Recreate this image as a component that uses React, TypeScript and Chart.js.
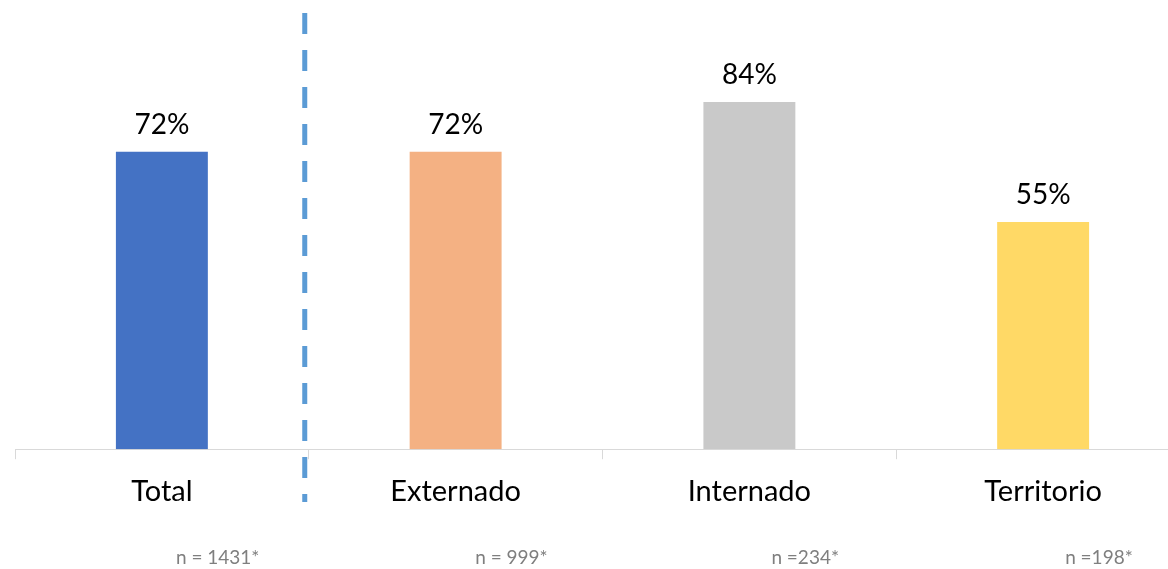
import React, { useEffect, useRef } from "react";
import { Chart, registerables } from "chart.js";

Chart.register(...registerables);

const categories = ["Total", "Externado", "Internado", "Territorio"];
const values = [72, 72, 84, 55];
const barColors = ["#4472C4", "#F4B183", "#C9C9C9", "#FFD966"];
const sampleLabels = ["n = 1431*", "n = 999*", "n =234*", "n =198*"];

const FONT = "Lato, 'Liberation Sans', sans-serif";

export default function App() {
  const ref = useRef<HTMLCanvasElement | null>(null);

  useEffect(() => {
    if (!ref.current) return;

    const valueLabels = {
      id: "valueLabels",
      afterDatasetsDraw(chart: any) {
        const ctx = chart.ctx;
        const meta = chart.getDatasetMeta(0);
        ctx.save();
        ctx.font = `28px ${FONT}`;
        ctx.fillStyle = "#000000";
        ctx.textAlign = "center";
        ctx.textBaseline = "alphabetic";
        meta.data.forEach((bar: any, i: number) => {
          ctx.fillText(`${values[i]}%`, bar.x, bar.y - 18);
        });
        // sample size labels
        ctx.font = `19px ${FONT}`;
        ctx.fillStyle = "#7F7F7F";
        ctx.textBaseline = "middle";
        const xs = chart.scales.x;
        const step = xs.getPixelForValue(1) - xs.getPixelForValue(0);
        meta.data.forEach((bar: any, i: number) => {
          ctx.fillText(sampleLabels[i], bar.x + step * 0.19, chart.height - 11);
        });
        // dashed separator
        const x = (xs.getPixelForValue(0) + xs.getPixelForValue(1)) / 2 - 4;
        ctx.strokeStyle = "#5B9BD5";
        ctx.lineWidth = 5;
        ctx.setLineDash([21, 16]);
        ctx.beginPath();
        ctx.moveTo(x, 13);
        ctx.lineTo(x, 502);
        ctx.stroke();
        ctx.restore();
      },
    };

    const chart = new Chart(ref.current, {
      type: "bar",
      data: {
        labels: categories,
        datasets: [
          {
            data: values,
            backgroundColor: barColors,
            barPercentage: 0.313,
            categoryPercentage: 1,
          },
        ],
      },
      options: {
        responsive: false,
        animation: false,
        layout: { padding: { left: 15, right: 0, top: 36, bottom: 45 } },
        plugins: {
          legend: { display: false },
          tooltip: { enabled: false },
        },
        scales: {
          x: {
            grid: {
              display: true,
              drawOnChartArea: false,
              drawTicks: true,
              tickLength: 10,
              color: "#D9D9D9",
              offset: true,
            },
            border: { display: true, color: "#D9D9D9", width: 1 },
            ticks: {
              color: "#000000",
              font: { family: FONT, size: 29 },
              padding: 15,
            },
          },
          y: {
            display: false,
            min: 0,
            max: 100,
          },
        },
      },
      plugins: [valueLabels],
    });

    return () => chart.destroy();
  }, []);

  return (
    <div
      style={{
        position: "absolute",
        left: 0,
        top: 0,
        width: 1168,
        height: 569,
        overflow: "hidden",
        background: "#ffffff",
      }}
    >
      <canvas ref={ref} width={1190} height={569} style={{ display: "block" }} />
    </div>
  );
}
